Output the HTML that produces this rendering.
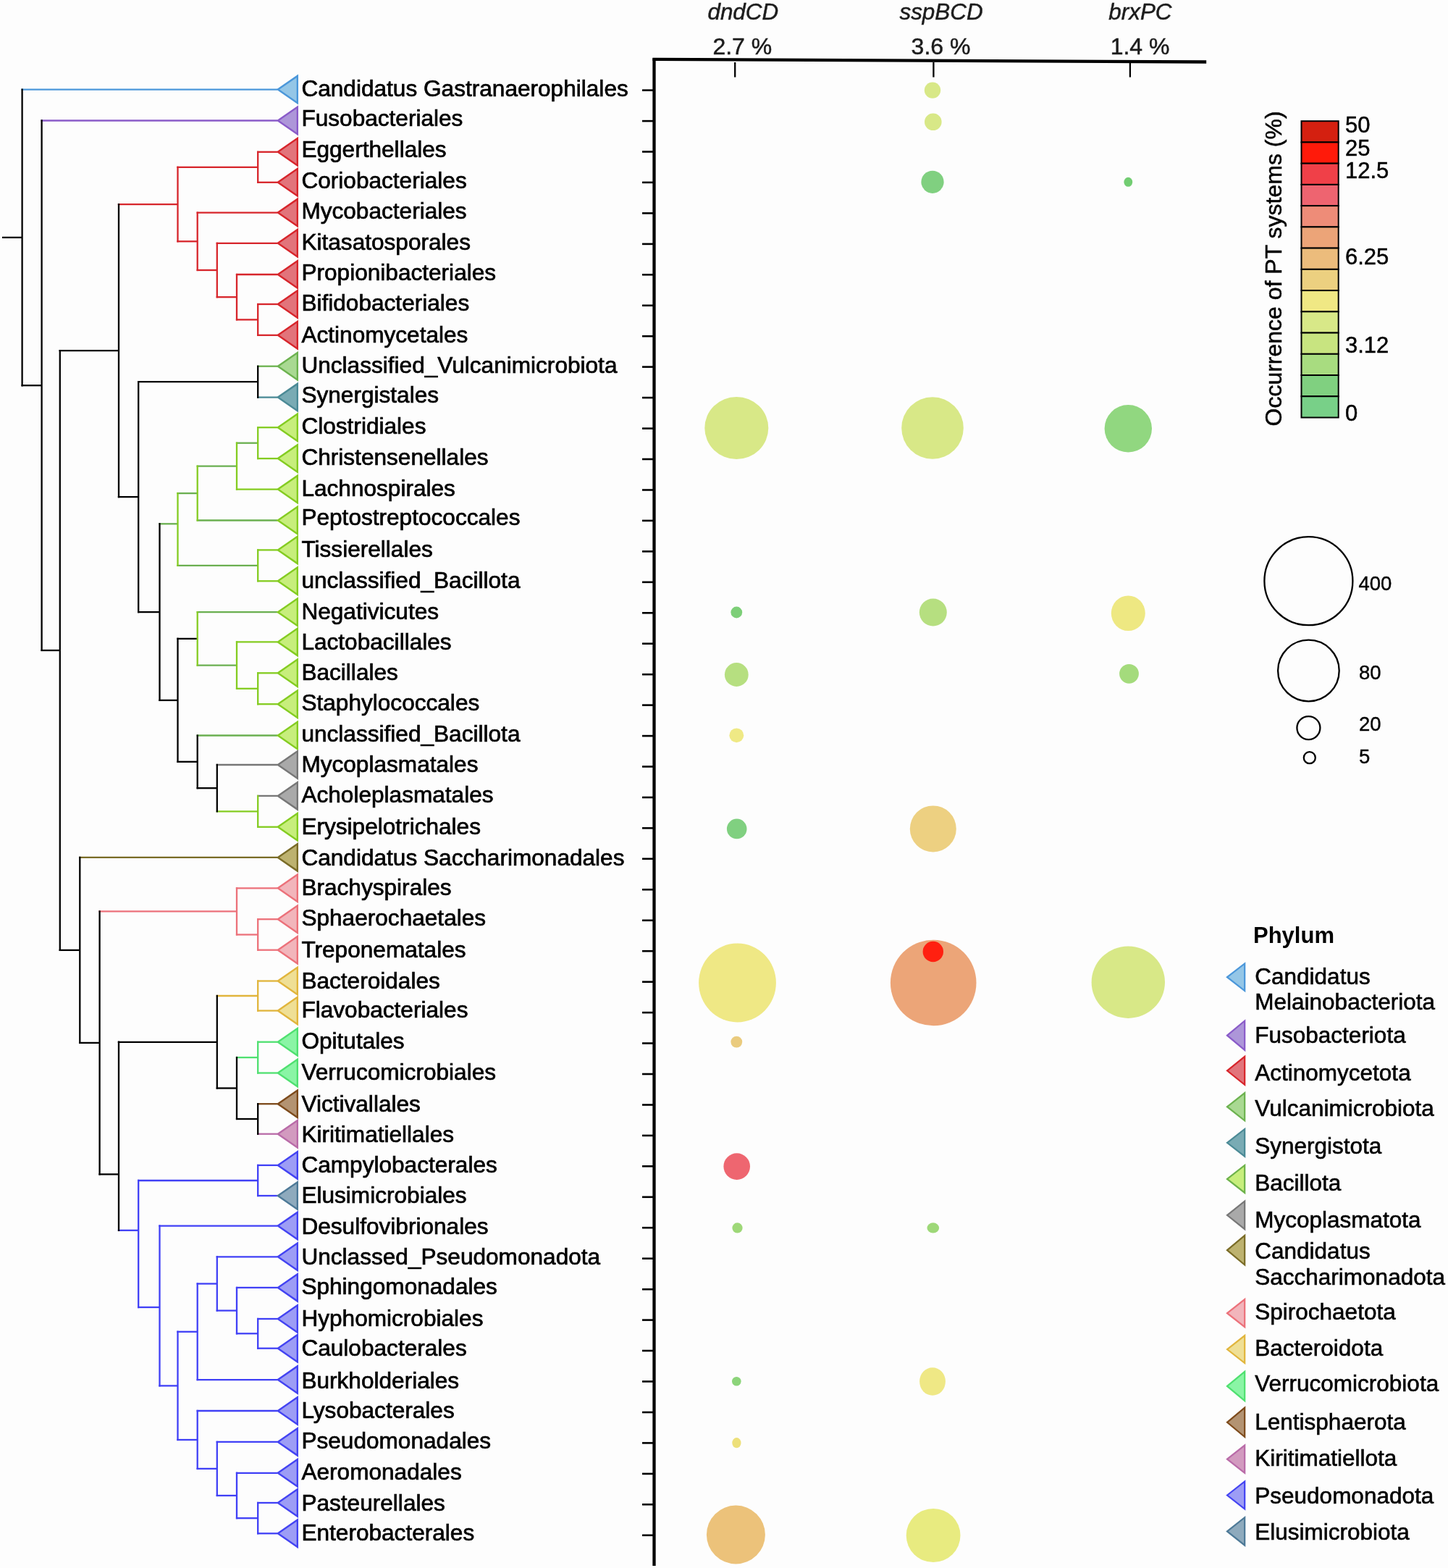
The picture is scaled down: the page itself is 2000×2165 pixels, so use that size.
<!DOCTYPE html>
<html><head><meta charset="utf-8"><title>PT systems phylogeny</title>
<style>html,body{margin:0;padding:0;background:#fdfdfd;}svg{display:block;}</style>
</head><body>
<svg width="2000" height="2165" viewBox="0 0 2000 2165">
<rect x="0" y="0" width="2000" height="2165" fill="#fdfdfd"/>
<g stroke-width="2.3" fill="none"><line x1="29.5" y1="123.6" x2="383.3" y2="123.6" stroke="#4b97da"/><line x1="29.5" y1="532.2" x2="57.6" y2="532.2" stroke="#000000"/><line x1="56.5" y1="166.5" x2="383.3" y2="166.5" stroke="#8a5bc9"/><line x1="56.5" y1="898.0" x2="82.8" y2="898.0" stroke="#000000"/><line x1="81.6" y1="484.1" x2="164.0" y2="484.1" stroke="#000000"/><line x1="81.6" y1="1311.9" x2="110.3" y2="1311.9" stroke="#000000"/><line x1="162.8" y1="282.1" x2="245.5" y2="282.1" stroke="#d7252b"/><line x1="162.8" y1="686.1" x2="191.2" y2="686.1" stroke="#000000"/><line x1="244.3" y1="230.8" x2="356.2" y2="230.8" stroke="#d7252b"/><line x1="244.3" y1="333.3" x2="272.7" y2="333.3" stroke="#d7252b"/><line x1="355.1" y1="209.8" x2="383.3" y2="209.8" stroke="#d7252b"/><line x1="355.1" y1="251.8" x2="383.3" y2="251.8" stroke="#d7252b"/><line x1="271.6" y1="293.6" x2="383.3" y2="293.6" stroke="#d7252b"/><line x1="271.6" y1="373.0" x2="299.8" y2="373.0" stroke="#d7252b"/><line x1="298.7" y1="335.8" x2="383.3" y2="335.8" stroke="#d7252b"/><line x1="298.7" y1="410.2" x2="327.0" y2="410.2" stroke="#d7252b"/><line x1="325.9" y1="379.0" x2="383.3" y2="379.0" stroke="#d7252b"/><line x1="325.9" y1="441.4" x2="356.2" y2="441.4" stroke="#d7252b"/><line x1="355.1" y1="420.0" x2="383.3" y2="420.0" stroke="#d7252b"/><line x1="355.1" y1="462.8" x2="383.3" y2="462.8" stroke="#d7252b"/><line x1="190.0" y1="527.1" x2="356.2" y2="527.1" stroke="#000000"/><line x1="190.0" y1="845.1" x2="220.5" y2="845.1" stroke="#000000"/><line x1="355.1" y1="505.7" x2="383.3" y2="505.7" stroke="#6cb24f"/><line x1="355.1" y1="548.6" x2="383.3" y2="548.6" stroke="#4b8a96"/><line x1="219.3" y1="723.3" x2="245.5" y2="723.3" stroke="#6aaf50"/><line x1="219.3" y1="966.9" x2="245.5" y2="966.9" stroke="#000000"/><line x1="244.3" y1="681.1" x2="272.7" y2="681.1" stroke="#6aaf50"/><line x1="244.3" y1="780.8" x2="356.2" y2="780.8" stroke="#6aaf50"/><line x1="271.6" y1="643.6" x2="327.0" y2="643.6" stroke="#6aaf50"/><line x1="271.6" y1="718.5" x2="383.3" y2="718.5" stroke="#6aaf50"/><line x1="325.9" y1="611.7" x2="356.2" y2="611.7" stroke="#6aaf50"/><line x1="325.9" y1="675.6" x2="383.3" y2="675.6" stroke="#84cc21"/><line x1="355.1" y1="590.2" x2="383.3" y2="590.2" stroke="#84cc21"/><line x1="355.1" y1="633.1" x2="383.3" y2="633.1" stroke="#84cc21"/><line x1="355.1" y1="759.4" x2="383.3" y2="759.4" stroke="#84cc21"/><line x1="355.1" y1="802.3" x2="383.3" y2="802.3" stroke="#84cc21"/><line x1="244.3" y1="881.9" x2="272.7" y2="881.9" stroke="#000000"/><line x1="244.3" y1="1051.8" x2="272.7" y2="1051.8" stroke="#000000"/><line x1="271.6" y1="845.2" x2="383.3" y2="845.2" stroke="#6aaf50"/><line x1="271.6" y1="918.6" x2="327.0" y2="918.6" stroke="#6aaf50"/><line x1="325.9" y1="886.4" x2="383.3" y2="886.4" stroke="#84cc21"/><line x1="325.9" y1="950.8" x2="356.2" y2="950.8" stroke="#84cc21"/><line x1="355.1" y1="929.3" x2="383.3" y2="929.3" stroke="#84cc21"/><line x1="355.1" y1="972.2" x2="383.3" y2="972.2" stroke="#84cc21"/><line x1="271.6" y1="1015.5" x2="383.3" y2="1015.5" stroke="#6aaf50"/><line x1="271.6" y1="1088.2" x2="299.8" y2="1088.2" stroke="#000000"/><line x1="298.7" y1="1056.0" x2="383.3" y2="1056.0" stroke="#777777"/><line x1="298.7" y1="1120.3" x2="356.2" y2="1120.3" stroke="#84cc21"/><line x1="355.1" y1="1098.9" x2="383.3" y2="1098.9" stroke="#777777"/><line x1="355.1" y1="1141.8" x2="383.3" y2="1141.8" stroke="#84cc21"/><line x1="109.1" y1="1183.9" x2="383.3" y2="1183.9" stroke="#7a6c27"/><line x1="109.1" y1="1439.9" x2="137.6" y2="1439.9" stroke="#000000"/><line x1="136.4" y1="1258.4" x2="327.0" y2="1258.4" stroke="#ec717a"/><line x1="136.4" y1="1621.4" x2="164.0" y2="1621.4" stroke="#000000"/><line x1="325.9" y1="1226.3" x2="383.3" y2="1226.3" stroke="#ec717a"/><line x1="325.9" y1="1290.5" x2="356.2" y2="1290.5" stroke="#ec717a"/><line x1="355.1" y1="1269.2" x2="383.3" y2="1269.2" stroke="#ec717a"/><line x1="355.1" y1="1311.7" x2="383.3" y2="1311.7" stroke="#ec717a"/><line x1="162.8" y1="1438.8" x2="299.8" y2="1438.8" stroke="#000000"/><line x1="162.8" y1="1698.8" x2="191.2" y2="1698.8" stroke="#4040f6"/><line x1="298.7" y1="1375.0" x2="356.2" y2="1375.0" stroke="#e1b53c"/><line x1="298.7" y1="1502.5" x2="327.0" y2="1502.5" stroke="#000000"/><line x1="355.1" y1="1354.5" x2="383.3" y2="1354.5" stroke="#e1b53c"/><line x1="355.1" y1="1395.5" x2="383.3" y2="1395.5" stroke="#e1b53c"/><line x1="325.9" y1="1460.1" x2="356.2" y2="1460.1" stroke="#4fe070"/><line x1="325.9" y1="1545.0" x2="356.2" y2="1545.0" stroke="#000000"/><line x1="355.1" y1="1438.7" x2="383.3" y2="1438.7" stroke="#4fe070"/><line x1="355.1" y1="1481.5" x2="383.3" y2="1481.5" stroke="#4fe070"/><line x1="355.1" y1="1524.2" x2="383.3" y2="1524.2" stroke="#7d4a1b"/><line x1="355.1" y1="1565.7" x2="383.3" y2="1565.7" stroke="#b96ba8"/><line x1="190.0" y1="1630.0" x2="356.2" y2="1630.0" stroke="#4040f6"/><line x1="190.0" y1="1805.0" x2="220.5" y2="1805.0" stroke="#4040f6"/><line x1="355.1" y1="1608.9" x2="383.3" y2="1608.9" stroke="#4040f6"/><line x1="355.1" y1="1651.0" x2="383.3" y2="1651.0" stroke="#4040f6"/><line x1="219.3" y1="1692.6" x2="383.3" y2="1692.6" stroke="#4040f6"/><line x1="219.3" y1="1913.4" x2="245.5" y2="1913.4" stroke="#4040f6"/><line x1="244.3" y1="1838.8" x2="272.7" y2="1838.8" stroke="#4040f6"/><line x1="244.3" y1="1988.0" x2="272.7" y2="1988.0" stroke="#4040f6"/><line x1="271.6" y1="1772.5" x2="299.8" y2="1772.5" stroke="#4040f6"/><line x1="271.6" y1="1905.1" x2="383.3" y2="1905.1" stroke="#4040f6"/><line x1="298.7" y1="1735.3" x2="383.3" y2="1735.3" stroke="#4040f6"/><line x1="298.7" y1="1809.6" x2="327.0" y2="1809.6" stroke="#4040f6"/><line x1="325.9" y1="1777.9" x2="383.3" y2="1777.9" stroke="#4040f6"/><line x1="325.9" y1="1841.3" x2="356.2" y2="1841.3" stroke="#4040f6"/><line x1="355.1" y1="1821.0" x2="383.3" y2="1821.0" stroke="#4040f6"/><line x1="355.1" y1="1861.7" x2="383.3" y2="1861.7" stroke="#4040f6"/><line x1="271.6" y1="1948.0" x2="383.3" y2="1948.0" stroke="#4040f6"/><line x1="271.6" y1="2027.9" x2="299.8" y2="2027.9" stroke="#4040f6"/><line x1="298.7" y1="1990.9" x2="383.3" y2="1990.9" stroke="#4040f6"/><line x1="298.7" y1="2065.0" x2="327.0" y2="2065.0" stroke="#4040f6"/><line x1="325.9" y1="2033.8" x2="383.3" y2="2033.8" stroke="#4040f6"/><line x1="325.9" y1="2096.2" x2="356.2" y2="2096.2" stroke="#4040f6"/><line x1="355.1" y1="2075.0" x2="383.3" y2="2075.0" stroke="#4040f6"/><line x1="355.1" y1="2117.3" x2="383.3" y2="2117.3" stroke="#4040f6"/><line x1="30.6" y1="122.4" x2="30.6" y2="533.4" stroke="#000000"/><line x1="57.6" y1="165.3" x2="57.6" y2="899.1" stroke="#000000"/><line x1="82.8" y1="482.9" x2="82.8" y2="1313.0" stroke="#000000"/><line x1="164.0" y1="280.9" x2="164.0" y2="687.3" stroke="#000000"/><line x1="245.5" y1="229.7" x2="245.5" y2="334.4" stroke="#d7252b"/><line x1="356.2" y1="208.7" x2="356.2" y2="253.0" stroke="#d7252b"/><line x1="272.7" y1="292.5" x2="272.7" y2="374.1" stroke="#d7252b"/><line x1="299.8" y1="334.7" x2="299.8" y2="411.3" stroke="#d7252b"/><line x1="327.0" y1="377.9" x2="327.0" y2="442.5" stroke="#d7252b"/><line x1="356.2" y1="418.9" x2="356.2" y2="463.9" stroke="#d7252b"/><line x1="191.2" y1="526.0" x2="191.2" y2="846.2" stroke="#000000"/><line x1="356.2" y1="504.6" x2="356.2" y2="549.8" stroke="#000000"/><line x1="220.5" y1="722.1" x2="220.5" y2="968.0" stroke="#000000"/><line x1="245.5" y1="679.9" x2="245.5" y2="782.0" stroke="#84cc21"/><line x1="272.7" y1="642.5" x2="272.7" y2="719.6" stroke="#84cc21"/><line x1="327.0" y1="610.5" x2="327.0" y2="676.8" stroke="#84cc21"/><line x1="356.2" y1="589.1" x2="356.2" y2="634.2" stroke="#84cc21"/><line x1="356.2" y1="758.2" x2="356.2" y2="803.4" stroke="#84cc21"/><line x1="245.5" y1="880.7" x2="245.5" y2="1053.0" stroke="#000000"/><line x1="272.7" y1="844.1" x2="272.7" y2="919.7" stroke="#84cc21"/><line x1="327.0" y1="885.2" x2="327.0" y2="951.9" stroke="#84cc21"/><line x1="356.2" y1="928.1" x2="356.2" y2="973.4" stroke="#84cc21"/><line x1="272.7" y1="1014.4" x2="272.7" y2="1089.3" stroke="#000000"/><line x1="299.8" y1="1054.8" x2="299.8" y2="1121.5" stroke="#000000"/><line x1="356.2" y1="1097.8" x2="356.2" y2="1143.0" stroke="#84cc21"/><line x1="110.3" y1="1182.8" x2="110.3" y2="1441.0" stroke="#000000"/><line x1="137.6" y1="1257.2" x2="137.6" y2="1622.6" stroke="#000000"/><line x1="327.0" y1="1225.1" x2="327.0" y2="1291.6" stroke="#ec717a"/><line x1="356.2" y1="1268.0" x2="356.2" y2="1312.9" stroke="#ec717a"/><line x1="164.0" y1="1437.6" x2="164.0" y2="1700.0" stroke="#000000"/><line x1="299.8" y1="1373.8" x2="299.8" y2="1503.7" stroke="#000000"/><line x1="356.2" y1="1353.3" x2="356.2" y2="1396.7" stroke="#e1b53c"/><line x1="327.0" y1="1458.9" x2="327.0" y2="1546.1" stroke="#000000"/><line x1="356.2" y1="1437.5" x2="356.2" y2="1482.7" stroke="#4fe070"/><line x1="356.2" y1="1523.0" x2="356.2" y2="1566.9" stroke="#000000"/><line x1="191.2" y1="1628.8" x2="191.2" y2="1806.2" stroke="#4040f6"/><line x1="356.2" y1="1607.8" x2="356.2" y2="1652.2" stroke="#4040f6"/><line x1="220.5" y1="1691.4" x2="220.5" y2="1914.5" stroke="#4040f6"/><line x1="245.5" y1="1837.6" x2="245.5" y2="1989.1" stroke="#4040f6"/><line x1="272.7" y1="1771.3" x2="272.7" y2="1906.2" stroke="#4040f6"/><line x1="299.8" y1="1734.1" x2="299.8" y2="1810.8" stroke="#4040f6"/><line x1="327.0" y1="1776.8" x2="327.0" y2="1842.5" stroke="#4040f6"/><line x1="356.2" y1="1819.8" x2="356.2" y2="1862.9" stroke="#4040f6"/><line x1="272.7" y1="1946.8" x2="272.7" y2="2029.1" stroke="#4040f6"/><line x1="299.8" y1="1989.8" x2="299.8" y2="2066.1" stroke="#4040f6"/><line x1="327.0" y1="2032.6" x2="327.0" y2="2097.3" stroke="#4040f6"/><line x1="356.2" y1="2073.8" x2="356.2" y2="2118.5" stroke="#4040f6"/><line x1="3" y1="327.9" x2="30.6" y2="327.9" stroke="#000"/></g>
<g stroke-width="2.4" stroke-linejoin="miter"><polygon points="383.8,123.6 410.8,104.9 410.8,142.3" fill="#94c6e7" stroke="#4b97da"/><polygon points="383.8,166.5 410.8,147.8 410.8,185.2" fill="#ad96d9" stroke="#8a5bc9"/><polygon points="383.8,209.8 410.8,191.1 410.8,228.5" fill="#e2747b" stroke="#d7252b"/><polygon points="383.8,251.8 410.8,233.1 410.8,270.5" fill="#e2747b" stroke="#d7252b"/><polygon points="383.8,293.6 410.8,274.9 410.8,312.3" fill="#e2747b" stroke="#d7252b"/><polygon points="383.8,335.8 410.8,317.1 410.8,354.5" fill="#e2747b" stroke="#d7252b"/><polygon points="383.8,379.0 410.8,360.3 410.8,397.7" fill="#e2747b" stroke="#d7252b"/><polygon points="383.8,420.0 410.8,401.3 410.8,438.7" fill="#e2747b" stroke="#d7252b"/><polygon points="383.8,462.8 410.8,444.1 410.8,481.5" fill="#e2747b" stroke="#d7252b"/><polygon points="383.8,505.7 410.8,487.0 410.8,524.4" fill="#a9d992" stroke="#6cb24f"/><polygon points="383.8,548.6 410.8,529.9 410.8,567.3" fill="#79abb4" stroke="#4b8a96"/><polygon points="383.8,590.2 410.8,571.5 410.8,608.9" fill="#c7ee7c" stroke="#84cc21"/><polygon points="383.8,633.1 410.8,614.4 410.8,651.8" fill="#c7ee7c" stroke="#84cc21"/><polygon points="383.8,675.6 410.8,656.9 410.8,694.3" fill="#c7ee7c" stroke="#84cc21"/><polygon points="383.8,718.5 410.8,699.8 410.8,737.2" fill="#c7ee7c" stroke="#84cc21"/><polygon points="383.8,759.4 410.8,740.7 410.8,778.1" fill="#c7ee7c" stroke="#84cc21"/><polygon points="383.8,802.3 410.8,783.6 410.8,821.0" fill="#c7ee7c" stroke="#84cc21"/><polygon points="383.8,845.2 410.8,826.5 410.8,863.9" fill="#c7ee7c" stroke="#84cc21"/><polygon points="383.8,886.4 410.8,867.7 410.8,905.1" fill="#c7ee7c" stroke="#84cc21"/><polygon points="383.8,929.3 410.8,910.6 410.8,948.0" fill="#c7ee7c" stroke="#84cc21"/><polygon points="383.8,972.2 410.8,953.5 410.8,990.9" fill="#c7ee7c" stroke="#84cc21"/><polygon points="383.8,1015.5 410.8,996.8 410.8,1034.2" fill="#c7ee7c" stroke="#84cc21"/><polygon points="383.8,1056.0 410.8,1037.3 410.8,1074.7" fill="#a9a9a9" stroke="#777777"/><polygon points="383.8,1098.9 410.8,1080.2 410.8,1117.6" fill="#a9a9a9" stroke="#777777"/><polygon points="383.8,1141.8 410.8,1123.1 410.8,1160.5" fill="#c7ee7c" stroke="#84cc21"/><polygon points="383.8,1183.9 410.8,1165.2 410.8,1202.6" fill="#bdb26f" stroke="#7a6c27"/><polygon points="383.8,1226.3 410.8,1207.6 410.8,1245.0" fill="#f2b5bb" stroke="#ec717a"/><polygon points="383.8,1269.2 410.8,1250.5 410.8,1287.9" fill="#f2b5bb" stroke="#ec717a"/><polygon points="383.8,1311.7 410.8,1293.0 410.8,1330.4" fill="#f2b5bb" stroke="#ec717a"/><polygon points="383.8,1354.5 410.8,1335.8 410.8,1373.2" fill="#efdf95" stroke="#e1b53c"/><polygon points="383.8,1395.5 410.8,1376.8 410.8,1414.2" fill="#efdf95" stroke="#e1b53c"/><polygon points="383.8,1438.7 410.8,1420.0 410.8,1457.4" fill="#8af5a5" stroke="#4fe070"/><polygon points="383.8,1481.5 410.8,1462.8 410.8,1500.2" fill="#8af5a5" stroke="#4fe070"/><polygon points="383.8,1524.2 410.8,1505.5 410.8,1542.9" fill="#b39372" stroke="#7d4a1b"/><polygon points="383.8,1565.7 410.8,1547.0 410.8,1584.4" fill="#d29abf" stroke="#b96ba8"/><polygon points="383.8,1608.9 410.8,1590.2 410.8,1627.6" fill="#9d9df5" stroke="#4343f2"/><polygon points="383.8,1651.0 410.8,1632.3 410.8,1669.7" fill="#8eaabd" stroke="#4d7997"/><polygon points="383.8,1692.6 410.8,1673.9 410.8,1711.3" fill="#9d9df5" stroke="#4343f2"/><polygon points="383.8,1735.3 410.8,1716.6 410.8,1754.0" fill="#9d9df5" stroke="#4343f2"/><polygon points="383.8,1777.9 410.8,1759.2 410.8,1796.6" fill="#9d9df5" stroke="#4343f2"/><polygon points="383.8,1821.0 410.8,1802.3 410.8,1839.7" fill="#9d9df5" stroke="#4343f2"/><polygon points="383.8,1861.7 410.8,1843.0 410.8,1880.4" fill="#9d9df5" stroke="#4343f2"/><polygon points="383.8,1905.1 410.8,1886.4 410.8,1923.8" fill="#9d9df5" stroke="#4343f2"/><polygon points="383.8,1948.0 410.8,1929.3 410.8,1966.7" fill="#9d9df5" stroke="#4343f2"/><polygon points="383.8,1990.9 410.8,1972.2 410.8,2009.6" fill="#9d9df5" stroke="#4343f2"/><polygon points="383.8,2033.8 410.8,2015.1 410.8,2052.5" fill="#9d9df5" stroke="#4343f2"/><polygon points="383.8,2075.0 410.8,2056.3 410.8,2093.7" fill="#9d9df5" stroke="#4343f2"/><polygon points="383.8,2117.3 410.8,2098.6 410.8,2136.0" fill="#9d9df5" stroke="#4343f2"/></g>
<g font-family="'Liberation Sans', Arial, Helvetica, sans-serif" font-size="31.6" fill="#000" stroke="#000" stroke-width="0.7"><text x="416.4" y="133.2">Candidatus Gastranaerophilales</text><text x="416.4" y="174.4">Fusobacteriales</text><text x="416.4" y="217.3">Eggerthellales</text><text x="416.4" y="259.8">Coriobacteriales</text><text x="416.4" y="302.4">Mycobacteriales</text><text x="416.4" y="345.3">Kitasatosporales</text><text x="416.4" y="386.5">Propionibacteriales</text><text x="416.4" y="429.4">Bifidobacteriales</text><text x="416.4" y="472.9">Actinomycetales</text><text x="416.4" y="514.8">Unclassified_Vulcanimicrobiota</text><text x="416.4" y="556.4">Synergistales</text><text x="416.4" y="599.2">Clostridiales</text><text x="416.4" y="642.4">Christensenellales</text><text x="416.4" y="685.1">Lachnospirales</text><text x="416.4" y="725.3">Peptostreptococcales</text><text x="416.4" y="768.9">Tissierellales</text><text x="416.4" y="812.0">unclassified_Bacillota</text><text x="416.4" y="855.3">Negativicutes</text><text x="416.4" y="896.5">Lactobacillales</text><text x="416.4" y="939.4">Bacillales</text><text x="416.4" y="981.3">Staphylococcales</text><text x="416.4" y="1024.1">unclassified_Bacillota</text><text x="416.4" y="1066.1">Mycoplasmatales</text><text x="416.4" y="1108.3">Acholeplasmatales</text><text x="416.4" y="1152.2">Erysipelotrichales</text><text x="416.4" y="1194.7">Candidatus Saccharimonadales</text><text x="416.4" y="1236.0">Brachyspirales</text><text x="416.4" y="1277.8">Sphaerochaetales</text><text x="416.4" y="1321.8">Treponematales</text><text x="416.4" y="1364.6">Bacteroidales</text><text x="416.4" y="1405.2">Flavobacteriales</text><text x="416.4" y="1447.7">Opitutales</text><text x="416.4" y="1491.0">Verrucomicrobiales</text><text x="416.4" y="1534.5">Victivallales</text><text x="416.4" y="1576.8">Kiritimatiellales</text><text x="416.4" y="1618.6">Campylobacterales</text><text x="416.4" y="1660.9">Elusimicrobiales</text><text x="416.4" y="1703.8">Desulfovibrionales</text><text x="416.4" y="1745.6">Unclassed_Pseudomonadota</text><text x="416.4" y="1787.2">Sphingomonadales</text><text x="416.4" y="1831.1">Hyphomicrobiales</text><text x="416.4" y="1872.3">Caulobacterales</text><text x="416.4" y="1916.5">Burkholderiales</text><text x="416.4" y="1958.1">Lysobacterales</text><text x="416.4" y="2000.3">Pseudomonadales</text><text x="416.4" y="2043.2">Aeromonadales</text><text x="416.4" y="2086.1">Pasteurellales</text><text x="416.4" y="2127.0">Enterobacterales</text></g>
<line x1="903.5" y1="80.2" x2="903.5" y2="2162" stroke="#000" stroke-width="4.3"/><line x1="901.4" y1="81.9" x2="1666.2" y2="85.5" stroke="#000" stroke-width="4.3"/><line x1="887" y1="124.6" x2="903" y2="124.6" stroke="#000" stroke-width="2.6"/><line x1="887" y1="167.1" x2="903" y2="167.1" stroke="#000" stroke-width="2.6"/><line x1="887" y1="209.5" x2="903" y2="209.5" stroke="#000" stroke-width="2.6"/><line x1="887" y1="251.9" x2="903" y2="251.9" stroke="#000" stroke-width="2.6"/><line x1="887" y1="294.4" x2="903" y2="294.4" stroke="#000" stroke-width="2.6"/><line x1="887" y1="336.9" x2="903" y2="336.9" stroke="#000" stroke-width="2.6"/><line x1="887" y1="379.3" x2="903" y2="379.3" stroke="#000" stroke-width="2.6"/><line x1="887" y1="421.8" x2="903" y2="421.8" stroke="#000" stroke-width="2.6"/><line x1="887" y1="464.2" x2="903" y2="464.2" stroke="#000" stroke-width="2.6"/><line x1="887" y1="506.6" x2="903" y2="506.6" stroke="#000" stroke-width="2.6"/><line x1="887" y1="549.1" x2="903" y2="549.1" stroke="#000" stroke-width="2.6"/><line x1="887" y1="591.6" x2="903" y2="591.6" stroke="#000" stroke-width="2.6"/><line x1="887" y1="634.0" x2="903" y2="634.0" stroke="#000" stroke-width="2.6"/><line x1="887" y1="676.5" x2="903" y2="676.5" stroke="#000" stroke-width="2.6"/><line x1="887" y1="718.9" x2="903" y2="718.9" stroke="#000" stroke-width="2.6"/><line x1="887" y1="761.4" x2="903" y2="761.4" stroke="#000" stroke-width="2.6"/><line x1="887" y1="803.8" x2="903" y2="803.8" stroke="#000" stroke-width="2.6"/><line x1="887" y1="846.3" x2="903" y2="846.3" stroke="#000" stroke-width="2.6"/><line x1="887" y1="888.7" x2="903" y2="888.7" stroke="#000" stroke-width="2.6"/><line x1="887" y1="931.2" x2="903" y2="931.2" stroke="#000" stroke-width="2.6"/><line x1="887" y1="973.6" x2="903" y2="973.6" stroke="#000" stroke-width="2.6"/><line x1="887" y1="1016.1" x2="903" y2="1016.1" stroke="#000" stroke-width="2.6"/><line x1="887" y1="1058.5" x2="903" y2="1058.5" stroke="#000" stroke-width="2.6"/><line x1="887" y1="1101.0" x2="903" y2="1101.0" stroke="#000" stroke-width="2.6"/><line x1="887" y1="1143.4" x2="903" y2="1143.4" stroke="#000" stroke-width="2.6"/><line x1="887" y1="1185.8" x2="903" y2="1185.8" stroke="#000" stroke-width="2.6"/><line x1="887" y1="1228.3" x2="903" y2="1228.3" stroke="#000" stroke-width="2.6"/><line x1="887" y1="1270.8" x2="903" y2="1270.8" stroke="#000" stroke-width="2.6"/><line x1="887" y1="1313.2" x2="903" y2="1313.2" stroke="#000" stroke-width="2.6"/><line x1="887" y1="1355.7" x2="903" y2="1355.7" stroke="#000" stroke-width="2.6"/><line x1="887" y1="1398.1" x2="903" y2="1398.1" stroke="#000" stroke-width="2.6"/><line x1="887" y1="1440.5" x2="903" y2="1440.5" stroke="#000" stroke-width="2.6"/><line x1="887" y1="1483.0" x2="903" y2="1483.0" stroke="#000" stroke-width="2.6"/><line x1="887" y1="1525.5" x2="903" y2="1525.5" stroke="#000" stroke-width="2.6"/><line x1="887" y1="1567.9" x2="903" y2="1567.9" stroke="#000" stroke-width="2.6"/><line x1="887" y1="1610.3" x2="903" y2="1610.3" stroke="#000" stroke-width="2.6"/><line x1="887" y1="1652.8" x2="903" y2="1652.8" stroke="#000" stroke-width="2.6"/><line x1="887" y1="1695.2" x2="903" y2="1695.2" stroke="#000" stroke-width="2.6"/><line x1="887" y1="1737.7" x2="903" y2="1737.7" stroke="#000" stroke-width="2.6"/><line x1="887" y1="1780.2" x2="903" y2="1780.2" stroke="#000" stroke-width="2.6"/><line x1="887" y1="1822.6" x2="903" y2="1822.6" stroke="#000" stroke-width="2.6"/><line x1="887" y1="1865.0" x2="903" y2="1865.0" stroke="#000" stroke-width="2.6"/><line x1="887" y1="1907.5" x2="903" y2="1907.5" stroke="#000" stroke-width="2.6"/><line x1="887" y1="1950.0" x2="903" y2="1950.0" stroke="#000" stroke-width="2.6"/><line x1="887" y1="1992.4" x2="903" y2="1992.4" stroke="#000" stroke-width="2.6"/><line x1="887" y1="2034.9" x2="903" y2="2034.9" stroke="#000" stroke-width="2.6"/><line x1="887" y1="2077.3" x2="903" y2="2077.3" stroke="#000" stroke-width="2.6"/><line x1="887" y1="2119.8" x2="903" y2="2119.8" stroke="#000" stroke-width="2.6"/><line x1="1015.2" y1="86" x2="1015.2" y2="106.6" stroke="#000" stroke-width="2.3"/><line x1="1289.4" y1="86" x2="1289.4" y2="106.6" stroke="#000" stroke-width="2.3"/><line x1="1560.9" y1="86" x2="1560.9" y2="106.6" stroke="#000" stroke-width="2.3"/>
<g font-family="'Liberation Sans', Arial, Helvetica, sans-serif" font-size="31" fill="#1c1c1c" stroke="#1c1c1c" stroke-width="0.5" text-anchor="middle"><text x="1026.3" y="27.4" font-style="italic" font-size="31.4">dndCD</text><text x="1025.3" y="74.8" font-size="32">2.7 %</text><text x="1300.0" y="27.4" font-style="italic" font-size="31.4">sspBCD</text><text x="1299.5" y="74.8" font-size="32">3.6 %</text><text x="1574.9" y="27.4" font-style="italic" font-size="31.4">brxPC</text><text x="1574.6" y="74.8" font-size="32">1.4 %</text></g>
<ellipse cx="1288.0" cy="124.6" rx="11.2" ry="11.2" fill="#d8e887"/><ellipse cx="1288.8" cy="168.3" rx="11.8" ry="11.8" fill="#d8e887"/><ellipse cx="1288.0" cy="251.3" rx="15.6" ry="15.6" fill="#80d080"/><ellipse cx="1558.3" cy="251.3" rx="5.9" ry="6.5" fill="#72cd72"/><ellipse cx="1017.3" cy="591.0" rx="44.0" ry="43.0" fill="#d8e887"/><ellipse cx="1288.0" cy="591.0" rx="42.8" ry="42.8" fill="#d8e887"/><ellipse cx="1558.3" cy="591.8" rx="32.7" ry="32.7" fill="#91d780"/><ellipse cx="1017.3" cy="845.5" rx="7.9" ry="7.9" fill="#7dcf78"/><ellipse cx="1288.8" cy="845.5" rx="19.0" ry="19.0" fill="#b6df80"/><ellipse cx="1558.3" cy="846.7" rx="23.5" ry="24.3" fill="#eee882"/><ellipse cx="1017.3" cy="931.5" rx="16.4" ry="16.4" fill="#b6df80"/><ellipse cx="1559.5" cy="930.3" rx="13.4" ry="13.4" fill="#a4db7c"/><ellipse cx="1017.3" cy="1015.3" rx="9.9" ry="9.9" fill="#efe985"/><ellipse cx="1017.7" cy="1144.4" rx="13.8" ry="13.8" fill="#80d080"/><ellipse cx="1288.8" cy="1144.4" rx="32.0" ry="32.0" fill="#edd081"/><ellipse cx="1018.5" cy="1357.0" rx="53.4" ry="54.4" fill="#efe885"/><ellipse cx="1289.2" cy="1357.0" rx="59.3" ry="59.3" fill="#eca578"/><ellipse cx="1288.8" cy="1314.0" rx="14.2" ry="14.2" fill="#ff2010"/><ellipse cx="1558.3" cy="1356.2" rx="50.7" ry="49.7" fill="#d8e887"/><ellipse cx="1017.3" cy="1438.6" rx="7.9" ry="7.9" fill="#eacb7e"/><ellipse cx="1017.7" cy="1610.6" rx="18.3" ry="18.3" fill="#ee6670"/><ellipse cx="1018.5" cy="1695.4" rx="7.1" ry="7.1" fill="#9ed878"/><ellipse cx="1288.8" cy="1695.4" rx="8.3" ry="7.1" fill="#9ed878"/><ellipse cx="1017.3" cy="1907.2" rx="6.3" ry="6.3" fill="#8cd47a"/><ellipse cx="1288.0" cy="1907.5" rx="17.9" ry="19.3" fill="#efe885"/><ellipse cx="1017.4" cy="1992.2" rx="6.1" ry="7.1" fill="#ede07a"/><ellipse cx="1016.4" cy="2119.0" rx="40.5" ry="40.4" fill="#ecc27a"/><ellipse cx="1289.1" cy="2120.0" rx="37.4" ry="37.1" fill="#e8eb80"/>
<rect x="1797.5" y="167.20" width="51.2" height="29.24" fill="#d42010" stroke="#000" stroke-width="2"/><rect x="1797.5" y="196.44" width="51.2" height="29.24" fill="#ff1a0a" stroke="#000" stroke-width="2"/><rect x="1797.5" y="225.67" width="51.2" height="29.24" fill="#f04048" stroke="#000" stroke-width="2"/><rect x="1797.5" y="254.91" width="51.2" height="29.24" fill="#ee6470" stroke="#000" stroke-width="2"/><rect x="1797.5" y="284.14" width="51.2" height="29.24" fill="#ee8c78" stroke="#000" stroke-width="2"/><rect x="1797.5" y="313.38" width="51.2" height="29.24" fill="#eca478" stroke="#000" stroke-width="2"/><rect x="1797.5" y="342.61" width="51.2" height="29.24" fill="#ecbc7c" stroke="#000" stroke-width="2"/><rect x="1797.5" y="371.85" width="51.2" height="29.24" fill="#ecd080" stroke="#000" stroke-width="2"/><rect x="1797.5" y="401.09" width="51.2" height="29.24" fill="#f0e884" stroke="#000" stroke-width="2"/><rect x="1797.5" y="430.32" width="51.2" height="29.24" fill="#d8e888" stroke="#000" stroke-width="2"/><rect x="1797.5" y="459.56" width="51.2" height="29.24" fill="#c8e480" stroke="#000" stroke-width="2"/><rect x="1797.5" y="488.79" width="51.2" height="29.24" fill="#a8dc80" stroke="#000" stroke-width="2"/><rect x="1797.5" y="518.03" width="51.2" height="29.24" fill="#80d080" stroke="#000" stroke-width="2"/><rect x="1797.5" y="547.26" width="51.2" height="29.24" fill="#78d088" stroke="#000" stroke-width="2"/>
<g font-family="'Liberation Sans', Arial, Helvetica, sans-serif" font-size="31" fill="#000" stroke="#000" stroke-width="0.5"><text x="1858" y="182.8">50</text><text x="1858" y="215.0">25</text><text x="1858" y="246.2">12.5</text><text x="1858" y="364.6">6.25</text><text x="1858" y="486.5">3.12</text><text x="1858" y="581.2">0</text></g>
<text transform="translate(1769.6,588.5) rotate(-90)" x="0" y="0" font-family="'Liberation Sans', Arial, Helvetica, sans-serif" font-size="32" fill="#000" stroke="#000" stroke-width="0.5">Occurrence of PT systems (%)</text>
<circle cx="1807.4" cy="802.2" r="61" fill="none" stroke="#000" stroke-width="2.3"/><circle cx="1807.4" cy="926.0" r="42.3" fill="none" stroke="#000" stroke-width="2.3"/><circle cx="1807.4" cy="1005.1" r="16" fill="none" stroke="#000" stroke-width="2.3"/><circle cx="1808.8" cy="1046.2" r="8" fill="none" stroke="#000" stroke-width="2.3"/>
<g font-family="'Liberation Sans', Arial, Helvetica, sans-serif" font-size="27.5" fill="#000" stroke="#000" stroke-width="0.4"><text x="1876.5" y="815.3">400</text><text x="1877" y="937.7">80</text><text x="1877" y="1009.4">20</text><text x="1877" y="1054">5</text></g>
<text x="1731" y="1302.1" font-family="'Liberation Sans', Arial, Helvetica, sans-serif" font-size="31" font-weight="bold" fill="#000">Phylum</text>
<g stroke-width="2.2"><polygon points="1695,1349.2 1719.2,1330.4 1719.2,1368.1" fill="#94c6e7" stroke="#4b97da"/><polygon points="1695,1429.7 1719.2,1409.5 1719.2,1449.8" fill="#ad96d9" stroke="#8a5bc9"/><polygon points="1695,1478.3 1719.2,1458.9 1719.2,1497.8" fill="#e2747b" stroke="#d7252b"/><polygon points="1695,1528.2 1719.2,1509.1 1719.2,1547.3" fill="#a9d992" stroke="#6cb24f"/><polygon points="1695,1577.8 1719.2,1559.0 1719.2,1596.7" fill="#79abb4" stroke="#4b8a96"/><polygon points="1695,1627.9 1719.2,1608.9 1719.2,1646.9" fill="#c7ee7c" stroke="#6db24a"/><polygon points="1695,1677.8 1719.2,1658.5 1719.2,1697.1" fill="#a9a9a9" stroke="#777777"/><polygon points="1695,1726.2 1719.2,1705.8 1719.2,1746.5" fill="#bdb26f" stroke="#7a6c27"/><polygon points="1695,1813.2 1719.2,1794.1 1719.2,1832.2" fill="#f2b5bb" stroke="#ec717a"/><polygon points="1695,1863.1 1719.2,1844.1 1719.2,1882.1" fill="#efdf95" stroke="#e1b53c"/><polygon points="1695,1913.9 1719.2,1893.8 1719.2,1934.1" fill="#8af5a5" stroke="#4fe070"/><polygon points="1695,1963.8 1719.2,1943.7 1719.2,1984.0" fill="#b39372" stroke="#7d4a1b"/><polygon points="1695,2014.7 1719.2,1995.6 1719.2,2033.8" fill="#d29abf" stroke="#b96ba8"/><polygon points="1695,2064.5 1719.2,2045.5 1719.2,2083.5" fill="#9d9df5" stroke="#4343f2"/><polygon points="1695,2114.4 1719.2,2095.2 1719.2,2133.7" fill="#8eaabd" stroke="#4d7997"/></g>
<g font-family="'Liberation Sans', Arial, Helvetica, sans-serif" font-size="31.5" fill="#000" stroke="#000" stroke-width="0.6"><text x="1733.3" y="1358.7">Candidatus</text><text x="1733.3" y="1394.2">Melainobacteriota</text><text x="1733.3" y="1440.1">Fusobacteriota</text><text x="1733.3" y="1492.0">Actinomycetota</text><text x="1733.3" y="1541.4">Vulcanimicrobiota</text><text x="1733.3" y="1593.4">Synergistota</text><text x="1733.3" y="1643.7">Bacillota</text><text x="1733.3" y="1695.2">Mycoplasmatota</text><text x="1733.3" y="1738.4">Candidatus</text><text x="1733.3" y="1774.3">Saccharimonadota</text><text x="1733.3" y="1821.6">Spirochaetota</text><text x="1733.3" y="1872.0">Bacteroidota</text><text x="1733.3" y="1921.4">Verrucomicrobiota</text><text x="1733.3" y="1974.2">Lentisphaerota</text><text x="1733.3" y="2024.4">Kiritimatiellota</text><text x="1733.3" y="2075.8">Pseudomonadota</text><text x="1733.3" y="2125.7">Elusimicrobiota</text></g>
</svg>
</body></html>
